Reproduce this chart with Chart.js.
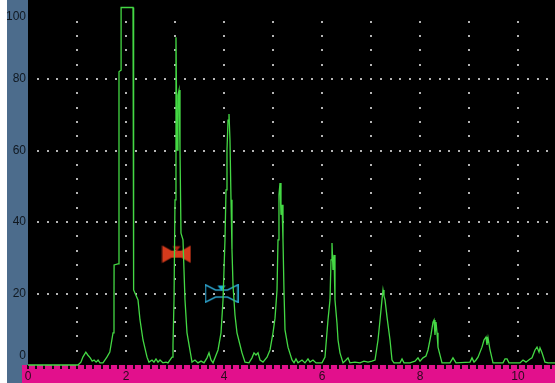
<!DOCTYPE html>
<html>
<head>
<meta charset="utf-8">
<title>A-scan</title>
<script src="https://cdn.jsdelivr.net/npm/chart.js@4.4.1/dist/chart.umd.min.js"></script>
<style>
    html, body { margin: 0; padding: 0; background: #fff; }
    .scanBox { position: relative; width: 555px; height: 383px; }
</style>
</head>
<body>
<div class="scanBox"><canvas id="ascan-chart"></canvas></div>
<script>
// rectified A-scan: depth along the ruler, amplitude in % screen height
const traceDepth = [
    0, 1.02, 1.08, 1.12, 1.18, 1.22, 1.27, 1.31, 1.35, 1.39, 1.43, 1.47, 1.53,
    1.61, 1.67, 1.735, 1.755, 1.757, 1.837, 1.857, 1.898, 1.9, 2.143, 2.148, 2.163, 2.245, 2.286, 2.347, 2.429, 2.469,
    2.531, 2.571, 2.612, 2.653, 2.694, 2.755, 2.816, 2.857,
    2.939, 2.959, 2.98, 3.0, 3.02, 3.041, 3.061, 3.082, 3.102, 3.122, 3.163, 3.204, 3.245, 3.347,
    3.408, 3.469, 3.531, 3.592, 3.653, 3.694, 3.735, 3.776,
    3.878, 3.939, 3.98, 4.02, 4.041, 4.061, 4.082, 4.102, 4.122, 4.143, 4.163, 4.184, 4.224, 4.265, 4.327, 4.367, 4.429,
    4.51, 4.571, 4.612, 4.653, 4.694, 4.735, 4.796,
    4.878, 4.939, 5.0, 5.041, 5.082, 5.102, 5.122, 5.143, 5.163, 5.184, 5.204, 5.224, 5.245, 5.306, 5.388,
    5.429, 5.469, 5.51, 5.592, 5.653, 5.714, 5.755, 5.816, 5.878, 6.0,
    6.061, 6.122, 6.163, 6.184, 6.204, 6.224, 6.245, 6.265, 6.306, 6.327, 6.367, 6.429,
    6.49, 6.531, 6.571, 6.673, 6.776, 6.857, 6.939, 7.02,
    7.082, 7.143, 7.184, 7.224, 7.245, 7.265, 7.286, 7.327, 7.388, 7.429, 7.469,
    7.592, 7.633, 7.673, 7.796, 7.898, 7.959, 8.0, 8.061,
    8.122, 8.163, 8.224, 8.265, 8.286, 8.306, 8.327, 8.347, 8.367, 8.449,
    8.612, 8.673, 8.735, 9.02, 9.061, 9.102, 9.143,
    9.184, 9.265, 9.306, 9.347, 9.367, 9.388, 9.429, 9.49,
    9.694, 9.735, 9.776, 9.816, 10.041, 10.102, 10.163, 10.245,
    10.286, 10.347, 10.388, 10.429, 10.449, 10.49, 10.551, 10.612, 10.755
];
const traceAmp = [
    0, 0, 0.8, 2.2, 3.6, 2.8, 2.0, 1.1, 1.4, 0.8, 1.4, 0.6, 0.6,
    2.2, 3.6, 9.0, 18.2, 28.0, 28.3, 82.0, 82.5, 100, 100, 60.1, 21.0, 18.2, 12.6, 7.0, 2.2, 0.8,
    1.4, 0.8, 1.7, 0.8, 1.4, 0.6, 0.8, 0.6,
    2.2, 5.6, 18.2, 46.2, 91.7, 60.1, 75.5, 76.9, 60.1, 36.9, 35.0, 18.2, 9.0, 0.8,
    1.4, 0.6, 1.1, 0.6, 2.0, 3.4, 1.4, 0.6,
    4.2, 9.0, 18.2, 35.0, 49.0, 60.1, 68.5, 70.2, 62.9, 46.2, 32.2, 22.4, 14.0, 9.0, 5.6, 3.4, 0.8,
    0.6, 2.0, 3.4, 2.8, 3.4, 1.4, 0.8,
    2.2, 4.2, 9.0, 13.1, 21.0, 35.0, 47.6, 50.9, 42.0, 44.8, 35.0, 21.0, 9.8, 5.0, 1.4,
    0.6, 1.7, 0.6, 1.4, 0.6, 1.7, 0.8, 1.4, 0.6, 0.6,
    2.2, 12.6, 18.2, 29.4, 34.1, 26.6, 30.8, 18.2, 11.7, 7.0, 3.4, 0.6,
    1.4, 2.0, 0.6, 0.8, 0.6, 1.1, 0.8, 1.1,
    1.4, 7.0, 12.6, 18.2, 21.0, 19.3, 18.2, 13.4, 7.0, 1.4, 0.6,
    0.6, 1.7, 0.6, 0.6, 1.1, 2.0, 1.1, 2.0,
    2.5, 4.2, 8.4, 12.0, 12.6, 8.4, 12.0, 9.0, 5.0, 0.6,
    0.6, 2.0, 0.6, 0.8, 2.0, 0.8, 1.4,
    2.2, 5.0, 7.0, 7.8, 5.6, 7.6, 4.2, 0.6,
    0.6, 1.7, 1.7, 0.6, 0.6, 1.4, 0.8, 1.7,
    2.0, 4.2, 5.0, 3.6, 4.8, 3.4, 0.8, 0.6, 0.6
];

// gate markers: A (red) and B (blue)
const gateDepth = [3.03, 3.95];
const gateLevel = [31, 20];

// axes
const ampTicks = [0, 20, 40, 60, 80, 100];
const depthLabels = [0, 2, 4, 6, 8, 10];
const gridLevels = [20, 40, 60, 80];
const gridDepths = [1, 2, 3, 4, 5, 6, 7, 8, 9, 10];

const depthMax = 10.755;
const ampMax = 102.1;
const labelFont = "'Liberation Sans', Arimo, sans-serif";

// ruler marks every 1/6 of a division
const rulerTicks = [];
for (let k = 0; k / 6 <= depthMax; k++) rulerTicks.push(k / 6);

function gateGlyph(gate) {
    const c = document.createElement('canvas');
    const w = gate === 'A' ? 30 : 34;
    const h = 19;
    c.width = w;
    c.height = h;
    const g = c.getContext('2d');
    const m = h / 2, bar = 3.5, wing = gate === 'A' ? 10 : 11;
    g.beginPath();
    g.moveTo(0.75, 0.75);
    g.lineTo(wing, m - bar);
    g.lineTo(w - wing, m - bar);
    g.lineTo(w - 0.75, 0.75);
    g.lineTo(w - 0.75, h - 0.75);
    g.lineTo(w - wing, m + bar);
    g.lineTo(wing, m + bar);
    g.lineTo(0.75, h - 0.75);
    g.closePath();
    if (gate === 'A') {
        g.fillStyle = '#d43a1c';
        g.fill();
    } else {
        g.strokeStyle = '#2b9cc4';
        g.lineWidth = 1.5;
        g.stroke();
    }
    // little tab on top of the bar
    g.beginPath();
    g.moveTo(w / 2 - 4, 1.5);
    g.lineTo(w / 2 + 4, 1.5);
    g.lineTo(w / 2, m - bar + 1);
    g.closePath();
    g.fillStyle = gate === 'A' ? '#b02410' : '#22b4d8';
    g.fill();
    return c;
}

const screenPlugin = {
    id: 'screenBg',
    beforeDraw(chart) {
        const { ctx, chartArea: a, width, height } = chart;
        ctx.save();
        ctx.fillStyle = '#4c6c8c';
        ctx.fillRect(7, 0, a.left - 7, height);
        ctx.fillStyle = '#000';
        ctx.fillRect(a.left, a.top, a.right - a.left, a.bottom - a.top);
        ctx.fillStyle = '#e2108c';
        ctx.fillRect(22, a.bottom, width - 22, height - a.bottom);
        ctx.restore();
    },
    beforeDatasetsDraw(chart) {
        const { ctx, scales: { x, y } } = chart;
        ctx.save();
        ctx.fillStyle = '#b4b4b4';
        gridLevels.forEach(level => {
            const py = Math.round(y.getPixelForValue(level));
            for (let k = 1; k * 0.2 <= depthMax; k++) {
                ctx.fillRect(Math.round(x.getPixelForValue(k * 0.2)) - 1, py - 1, 2, 2);
            }
        });
        gridDepths.forEach(d => {
            const px = Math.round(x.getPixelForValue(d));
            for (let k = 1; k * 4 < 100; k++) {
                ctx.fillRect(px - 1, Math.round(y.getPixelForValue(k * 4)) - 1, 2, 2);
            }
        });
        ctx.restore();
    }
};

document.addEventListener("DOMContentLoaded", function () {
    const ctx = document.getElementById('ascan-chart').getContext('2d');
    new Chart(ctx, {
        type: 'scatter',
        data: {
            datasets: [{
                label: 'A-scan',
                data: traceDepth.map((d, i) => ({ x: d, y: traceAmp[i] })),
                showLine: true,
                borderColor: '#44d844',
                borderWidth: 1.3,
                pointRadius: 0,
                clip: 3
            }, {
                label: 'Gate A',
                data: [{ x: gateDepth[0], y: gateLevel[0] }],
                pointStyle: gateGlyph('A'),
                pointRadius: 10
            }, {
                label: 'Gate B',
                data: [{ x: gateDepth[1], y: gateLevel[1] }],
                pointStyle: gateGlyph('B'),
                pointRadius: 10
            }]
        },
        options: {
            responsive: true,
            maintainAspectRatio: false,
            devicePixelRatio: 1,
            animation: false,
            layout: { autoPadding: false, padding: { left: 7, top: 0, right: 0, bottom: 0 } },
            plugins: { legend: { display: false }, tooltip: { enabled: false } },
            scales: {
                x: {
                    type: 'linear',
                    min: 0,
                    max: depthMax,
                    afterBuildTicks: scale => { scale.ticks = rulerTicks.map(v => ({ value: v })); },
                    afterFit: scale => {
                        scale.height = 18;
                        scale.paddingLeft = 0;
                        scale.paddingRight = 0;
                    },
                    grid: { drawOnChartArea: false, drawTicks: true, tickLength: 4, color: '#1a0010', lineWidth: 2 },
                    border: { display: false },
                    ticks: {
                        autoSkip: false,
                        maxRotation: 0,
                        padding: 0,
                        color: '#2a0a1e',
                        font: { family: labelFont, size: 12 },
                        callback: function (value) {
                            const hit = depthLabels.find(d => Math.abs(d - value) < 1e-6);
                            return hit === undefined ? '' : String(hit);
                        }
                    }
                },
                y: {
                    type: 'linear',
                    min: 0,
                    max: ampMax,
                    afterBuildTicks: scale => { scale.ticks = ampTicks.map(v => ({ value: v })); },
                    afterFit: scale => {
                        scale.width = 21;
                        scale.paddingTop = 0;
                        scale.paddingBottom = 0;
                    },
                    grid: { display: false, drawTicks: false },
                    border: { display: false },
                    ticks: {
                        padding: 2,
                        color: '#101820',
                        font: { family: labelFont, size: 12, lineHeight: 1.6 },
                        callback: function (value) {
                            if (value === 100) return ['', '100'];
                            if (value === 0) return ['0', ''];
                            return String(value);
                        }
                    }
                }
            }
        },
        plugins: [screenPlugin]
    });
});
</script>
</body>
</html>
